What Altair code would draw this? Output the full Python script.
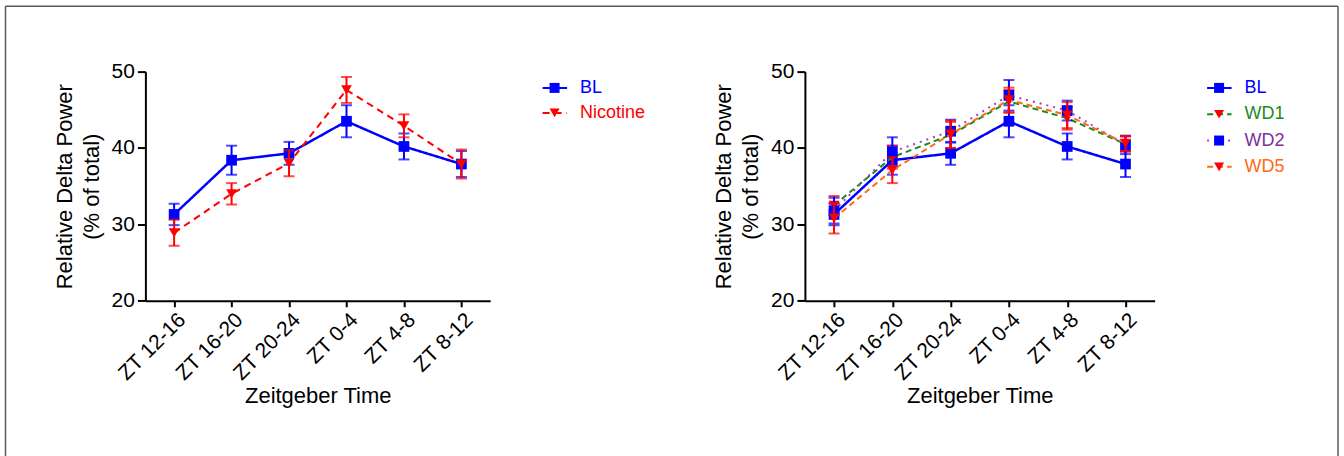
import altair as alt
import pandas as pd

# Zeitgeber time bins (x categories)
zt_labels = ["ZT 12-16", "ZT 16-20", "ZT 20-24", "ZT 0-4", "ZT 4-8", "ZT 8-12"]

# Relative delta power, mean and SEM per bin (% of total)
bl_mean = [31.3, 38.4, 39.3, 43.5, 40.2, 37.9]
bl_sem = [1.4, 1.9, 1.5, 2.1, 1.7, 1.7]

nic_mean = [28.9, 34.0, 38.0, 47.6, 42.9, 37.9]
nic_sem = [1.7, 1.4, 1.7, 1.7, 1.5, 1.9]

wd1_mean = [32.5, 38.8, 41.7, 46.1, 43.9, 40.5]
wd1_sem = [1.2, 1.5, 1.7, 1.5, 1.5, 1.0]

wd2_mean = [31.8, 39.5, 42.2, 46.9, 44.9, 40.4]
wd2_sem = [1.7, 1.9, 1.5, 2.0, 1.3, 1.2]

wd5_mean = [30.8, 37.1, 41.8, 46.3, 44.3, 40.6]
wd5_sem = [2.0, 1.7, 1.8, 1.6, 1.7, 1.0]

series_values = {
    "BL": (bl_mean, bl_sem),
    "Nicotine": (nic_mean, nic_sem),
    "WD1": (wd1_mean, wd1_sem),
    "WD2": (wd2_mean, wd2_sem),
    "WD5": (wd5_mean, wd5_sem),
}

left_series = ["BL", "Nicotine"]
right_series = ["BL", "WD1", "WD2", "WD5"]

# Per-series drawing style
styles = {
    "BL": dict(line="#0000ff", marker="#0000ff", shape="square", dash=[1, 0], text="#0000ff", width=2.5),
    "Nicotine": dict(line="#ff0000", marker="#ff0000", shape="triangle-down", dash=[7, 5], text="#ff0000", width=2),
    "WD1": dict(line="#1a8c1a", marker="#ff0000", shape="triangle-down", dash=[6, 4], text="#1a8c1a", width=2),
    "WD2": dict(line="#a040d0", marker="#0000ff", shape="square", dash=[2, 5], text="#7b2fa0", width=2),
    "WD5": dict(line="#ff6a13", marker="#ff0000", shape="triangle-down", dash=[6, 4], text="#ff6a13", width=2),
}

rows = []
for name, (means, sems) in series_values.items():
    for zt, m, s in zip(zt_labels, means, sems):
        rows.append({"series": name, "zt": zt, "mean": m, "lo": m - s, "hi": m + s})
df = pd.DataFrame(rows)

FONT = "Liberation Sans"
TICK_FS = 21
TITLE_FS = 22
LEG_FS = 18
PLOT_H = 229.3

x_axis = alt.Axis(
    labelAngle=-45, labelFontSize=TICK_FS, labelColor="black", labelPadding=2,
    tickSize=6, tickWidth=2, tickColor="black", domainWidth=2, domainColor="black",
    titleFontSize=TITLE_FS, titleFontWeight="normal", titleColor="black", titlePadding=2,
)
y_axis = alt.Axis(
    values=[20, 30, 40, 50], labelFontSize=TICK_FS, labelColor="black", labelPadding=3,
    tickSize=8, tickWidth=2, tickColor="black", domainWidth=2, domainColor="black",
    titleFontSize=TITLE_FS, titleFontWeight="normal", titleColor="black",
    titleLineHeight=27, titlePadding=8, grid=False,
)
y_title = ["Relative Delta Power", "(% of total)"]


def X():
    return alt.X("zt:N", sort=zt_labels, title="Zeitgeber Time", axis=x_axis,
                 scale=alt.Scale(type="point", padding=0.5, domain=zt_labels))


def Y(field):
    return alt.Y(f"{field}:Q", title=y_title, axis=y_axis,
                 scale=alt.Scale(domain=[20, 50], nice=False, zero=False))


def panel(names, width, extra=None):
    layers = []
    for name in names:
        s = styles[name]
        d = alt.Chart(df).transform_filter(alt.datum.series == name)
        layers.append(d.mark_rule(color=s["marker"], strokeWidth=2).encode(x=X(), y=Y("lo"), y2="hi:Q"))
        for f in ("lo", "hi"):
            layers.append(d.mark_tick(color=s["marker"], size=11, thickness=2).encode(x=X(), y=Y(f)))
        layers.append(d.mark_line(color=s["line"], strokeWidth=s["width"], strokeDash=s["dash"]).encode(x=X(), y=Y("mean")))
        layers.append(d.mark_point(filled=True, shape=s["shape"], size=115, opacity=1,
                                   color=s["marker"]).encode(x=X(), y=Y("mean")))
    if extra:
        layers.extend(extra)
    return alt.layer(*layers).properties(width=width, height=PLOT_H)


def legend(names, width, y_range):
    ldf = pd.DataFrame({"series": names})
    base = alt.Chart(ldf)
    yenc = alt.Y("series:N", axis=None, sort=names,
                 scale=alt.Scale(type="point", domain=names, range=y_range, padding=0))
    dom = names
    rule = base.mark_rule(strokeWidth=2).encode(
        x=alt.value(2.5), x2=alt.value(27), y=yenc,
        stroke=alt.Stroke("series:N", legend=None,
                          scale=alt.Scale(domain=dom, range=[styles[n]["line"] for n in names])),
        strokeDash=alt.StrokeDash("series:N", legend=None,
                                  scale=alt.Scale(domain=dom, range=[styles[n]["dash"] for n in names])),
    )
    pts = base.mark_point(filled=True, size=100, opacity=1).encode(
        x=alt.value(14.5), y=yenc,
        fill=alt.Fill("series:N", legend=None,
                      scale=alt.Scale(domain=dom, range=[styles[n]["marker"] for n in names])),
        shape=alt.Shape("series:N", legend=None,
                        scale=alt.Scale(domain=dom, range=[styles[n]["shape"] for n in names])),
    )
    txt = base.mark_text(align="left", baseline="middle", fontSize=LEG_FS, font=FONT).encode(
        x=alt.value(40), y=yenc, text="series:N",
        color=alt.Color("series:N", legend=None,
                        scale=alt.Scale(domain=dom, range=[styles[n]["text"] for n in names])),
    )
    return alt.layer(rule, pts, txt).properties(width=width, height=PLOT_H)


# Outer frame drawn relative to the left plot's origin
one = pd.DataFrame({"k": [0]})
frame_color = "#5a5a5a"
frame = [
    alt.Chart(one).mark_rule(color=frame_color, strokeWidth=1.5).encode(
        x=alt.value(-140), y=alt.value(-65.5), y2=alt.value(385)),
    alt.Chart(one).mark_rule(color=frame_color, strokeWidth=1.5).encode(
        x=alt.value(1193.5), y=alt.value(-65.5), y2=alt.value(385)),
    alt.Chart(one).mark_rule(color=frame_color, strokeWidth=1.5).encode(
        x=alt.value(-140), x2=alt.value(1193.5), y=alt.value(-65.5)),
]

left = panel(left_series, 345, extra=frame)
left_leg = legend(left_series, 215, [16.3, 41.3])
right = panel(right_series, 350)
right_leg = legend(right_series, 120, [16.3, 95.3])

chart = alt.hconcat(left, left_leg, right, right_leg, spacing=50, bounds="flush").resolve_scale(
    x="independent", y="independent", color="independent", fill="independent",
    stroke="independent", strokeDash="independent", shape="independent",
).properties(
    padding={"left": 4.5, "top": 4.5, "right": 4.5, "bottom": 0},
    background="white",
).configure(font=FONT).configure_view(stroke=None)

chart.save("out.html", embed_options={"renderer": "svg", "actions": False})
